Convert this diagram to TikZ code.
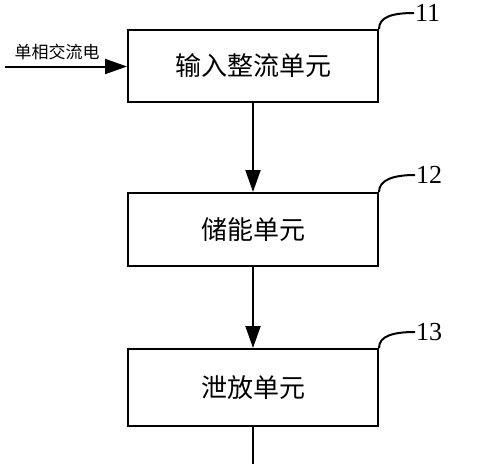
\documentclass[tikz,border=0pt]{standalone}
\usepackage{fontspec}
\setmainfont{Liberation Serif}
\newfontfamily\cjk{Noto Sans CJK SC}
\usetikzlibrary{arrows.meta,positioning}
\tikzset{
	unit/.style={draw, line width=2pt, minimum width=250pt, minimum height=73pt, inner sep=0pt, font=\cjk\fontsize{26}{26}\selectfont},
	flow/.style={line width=2pt, -{Triangle[length=22pt,width=15pt]}},
	leader/.style={line width=2pt},
	refnum/.style={anchor=west, inner sep=1pt, font=\fontsize{26}{26}\selectfont}
}
\begin{document}
\begin{tikzpicture}[x=1pt,y=-1pt]
			%%%%% START %%%%%
			\useasboundingbox (0,0) rectangle (500,464);
			
			\node[unit, minimum height=72pt] (rectify) at (253,66) {输入整流单元};
			\node[unit] (store) at (253,229.5) {储能单元};
			\node[unit, minimum height=77pt] (release) at (253,387.5) {泄放单元};
			
			\coordinate (ac) at (5,66.5);
			\node[font=\cjk\fontsize{17}{17}\selectfont, inner sep=0pt] (aclabel) at (57,52) {单相交流电};
			\draw[flow] (ac) -- (ac -| rectify.west);
			
			\draw[flow] (rectify.south) -- (store.north);
			\draw[flow] (store.south) -- (release.north);
			\coordinate (out) at (253,464);
			\draw[leader] (release.south) -- (out);
			
			\node[refnum] (n11) at (414,13) {11};
			\node[refnum] (n12) at (415,175) {12};
			\node[refnum] (n13) at (415,332) {13};
			\draw[leader] (rectify.north east) .. controls +(0,-12) and +(-22,0) .. (n11.west);
			\draw[leader] (store.north east) .. controls +(0,-12) and +(-22,0) .. (n12.west);
			\draw[leader] (release.north east) .. controls +(0,-12) and +(-22,0) .. (n13.west);
			
			%%%%% END %%%%%
\end{tikzpicture}
\end{document}
